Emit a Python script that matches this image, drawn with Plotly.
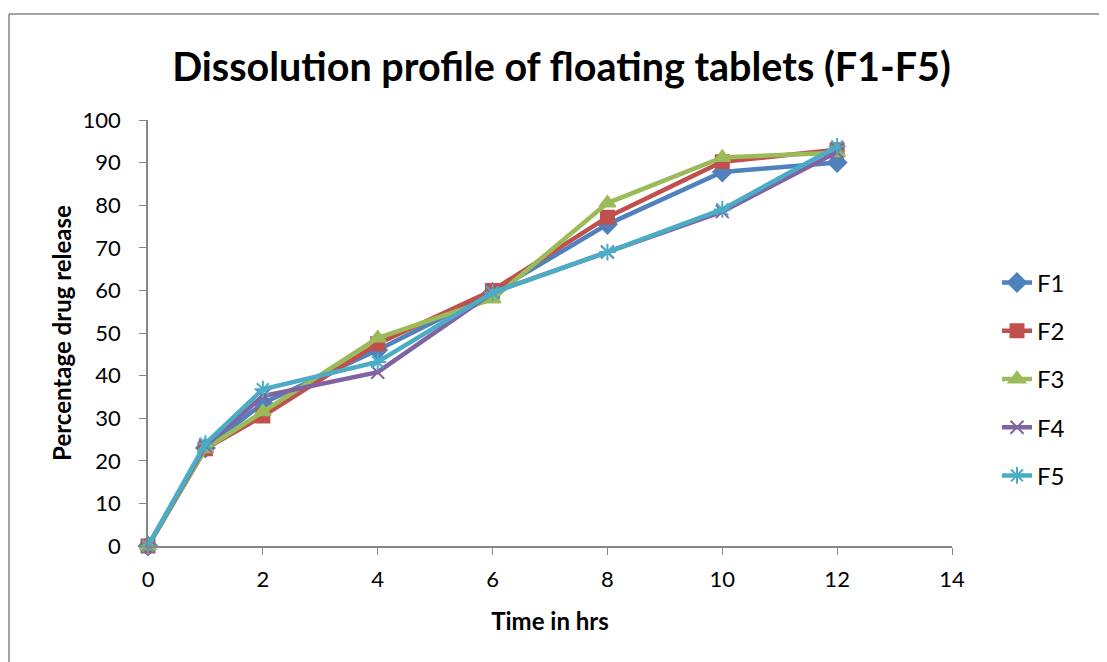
import plotly.graph_objects as go

time_hrs = [0, 1, 2, 4, 6, 8, 10, 12]
F1 = [0, 23.0, 33.5, 46.0, 59.5, 75.5, 87.8, 90.0]
F2 = [0, 22.8, 30.5, 47.5, 60.0, 77.2, 90.2, 93.0]
F3 = [0, 22.8, 31.5, 48.8, 58.0, 80.5, 91.2, 92.3]
F4 = [0, 23.5, 35.2, 40.8, 59.5, 69.0, 78.5, 92.5]
F5 = [0, 24.0, 36.8, 43.2, 59.5, 69.0, 79.0, 93.8]

series = [
    ("F1", F1, "#4F81BD", "diamond", 14),
    ("F2", F2, "#C0504D", "square", 13),
    ("F3", F3, "#9BBB59", "triangle-up", 14),
    ("F4", F4, "#8064A2", "x-thin-open", 13),
    ("F5", F5, "#4BACC6", "asterisk-open", 14),
]

fig = go.Figure()
for name, vals, color, sym, size in series:
    fig.add_trace(go.Scatter(
        x=time_hrs, y=vals, name=name, legendgroup=name, mode="lines+markers",
        line=dict(color=color, width=4.5),
        marker=dict(symbol=sym, size=size, color=color,
                    line=dict(color=color, width=2)),
        cliponaxis=False,
    ))

FAM = "Lato, Carlito, Liberation Sans"
tick_font = dict(family=FAM, size=22, color="#000")
title_font = dict(family=FAM, size=24, color="#000")

L, R, T, B = 140, 944, 112, 538
fig.update_layout(
    width=1107, height=662,
    margin=dict(l=L, r=1107 - R, t=T, b=662 - B),
    paper_bgcolor="white", plot_bgcolor="white",
    title=dict(text="<b>Dissolution profile of floating tablets (F1-F5)</b>",
               x=0.5, xanchor="center", y=0.911, yanchor="middle",
               font=dict(family=FAM, size=39.5, color="#000")),
    font=tick_font,
    xaxis=dict(range=[0, 14], dtick=2, showgrid=False, zeroline=False,
               showline=True, linecolor="#868686", linewidth=1.5,
               ticks="outside", ticklen=7, tickcolor="#868686",
               tickfont=tick_font, ticklabelstandoff=6,
               title=dict(text="<b>Time in hrs</b>", font=title_font, standoff=22)),
    yaxis=dict(range=[0, 100], dtick=10, showgrid=False, zeroline=False,
               showline=True, linecolor="#868686", linewidth=1.5,
               ticks="outside", ticklen=7, tickcolor="#868686",
               tickfont=tick_font, ticklabelstandoff=14,
               title=dict(text="<b>Percentage drug release</b>", font=title_font, standoff=4)),
    legend=dict(x=(989 - L) / (R - L), y=(B - 371) / (B - T), xanchor="left", yanchor="middle",
                font=dict(family=FAM, size=24, color="#000"),
                tracegroupgap=14, bgcolor="rgba(0,0,0,0)"),
    shapes=[
        dict(type="line", xref="paper", yref="paper",
             x0=(1 - L) / (R - L), x1=(1130 - L) / (R - L),
             y0=(B - 6) / (B - T), y1=(B - 6) / (B - T),
             line=dict(color="#868686", width=1.5)),
        dict(type="line", xref="paper", yref="paper",
             x0=(1 - L) / (R - L), x1=(1 - L) / (R - L),
             y0=(B - 6) / (B - T), y1=(B - 700) / (B - T),
             line=dict(color="#868686", width=1.5)),
    ],
)

fig.write_html("out.html")
